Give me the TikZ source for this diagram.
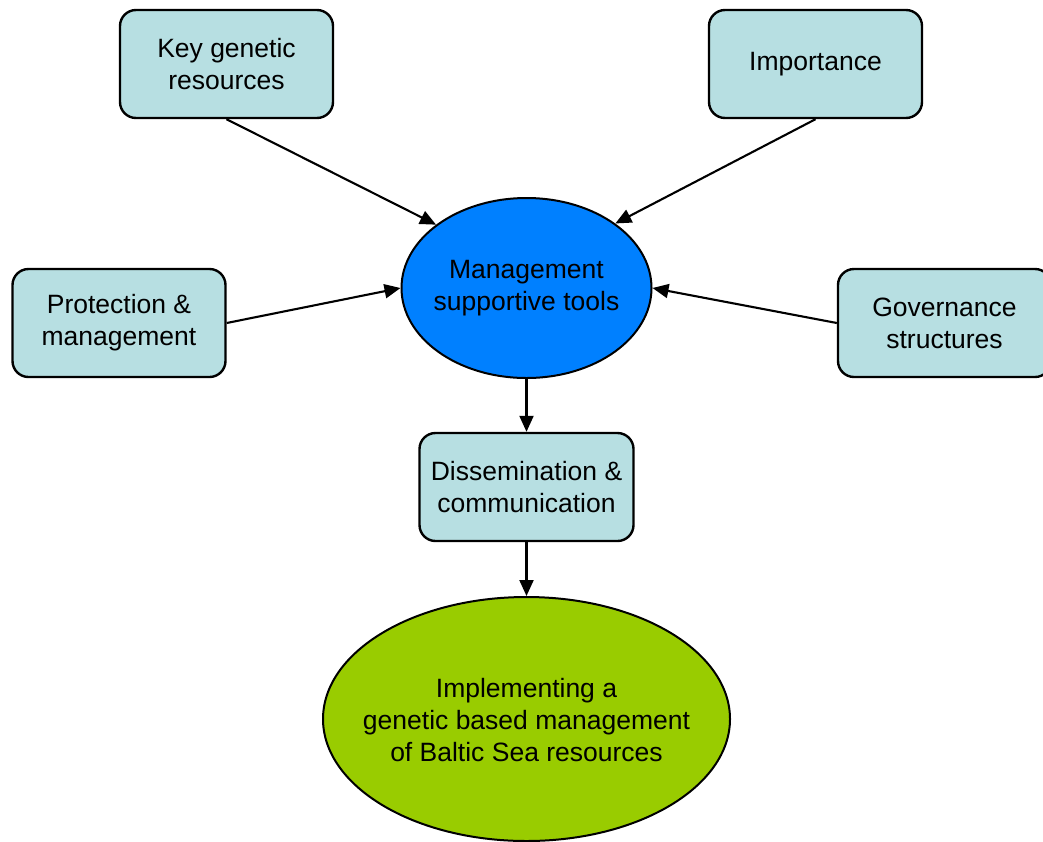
\documentclass[tikz,border=0pt]{standalone}
\usepackage{fontspec}
\setmainfont{Liberation Sans}
\usepackage{tikz}
\usetikzlibrary{shapes, arrows.meta}

\definecolor{topicblue}{HTML}{B7DFE2}
\definecolor{toolblue}{HTML}{0080FF}
\definecolor{goalgreen}{HTML}{99CC00}

\begin{document}
\begin{tikzpicture}[x=1pt, y=-1pt,
	topic/.style={draw, line width=2.4pt, rounded corners=16pt, fill=topicblue,
		minimum width=213pt, minimum height=108pt, align=center, font=\fontsize{26.5}{32}\selectfont},
	hub/.style={ellipse, draw, line width=2pt, inner sep=0pt},
	hubtext/.style={align=center, font=\fontsize{26.5}{32}\selectfont},
	link/.style={line width=2.1pt, -{Triangle[length=16pt, width=14pt]}}]
	\useasboundingbox (0,0) rectangle (1043,841);
	
	% outer topics
	\node (key) at (226.5,64) [topic] {Key genetic\\resources};
	\node (imp) at (815.5,64) [topic] {Importance};
	\node (prot) at (119,323) [topic] {Protection \&\\management};
	\node (gov) at (944.5,323) [topic] {Governance\\structures};
	
	% central tools
	\node (tools) at (526.5,288) [hub, fill=toolblue, minimum width=250pt, minimum height=180pt,
		label={[hubtext]center:Management\\supportive tools}] {};
	
	\node (diss) at (526.5,487) [topic, minimum width=214pt] {Dissemination \&\\communication};
	
	% final goal
	\node (goal) at (526.5,719) [hub, fill=goalgreen, minimum width=407pt, minimum height=244pt,
		label={[hubtext, yshift=-1pt]center:Implementing a\\genetic based management\\of Baltic Sea resources}] {};
	
	% arrows into the tools
	\draw [link] (key.south) -- (tools.145);
	\draw [link] (imp.south) -- (tools.36);
	\draw [link] (prot.east) -- (tools.west);
	\draw [link] (gov.west) -- (tools.east);
	
	\draw [link] (tools.south) -- (diss.north);
	\draw [link] (diss.south) -- (goal.north);
\end{tikzpicture}
\end{document}
